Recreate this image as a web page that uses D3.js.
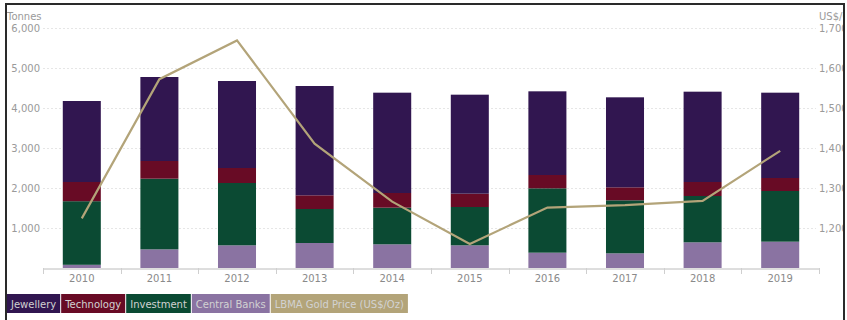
<!DOCTYPE html>
<html>
<head>
<meta charset="utf-8">
<script src="https://cdn.jsdelivr.net/npm/d3@7"></script>
<style>
  body { margin: 0; background: #fff; }
  #chart { position: relative; width: 847px; height: 320px; overflow: hidden; }
  svg text { font-family: "DejaVu Sans", sans-serif; }
</style>
</head>
<body>
<div id="chart"></div>
<script>
var years = ["2010", "2011", "2012", "2013", "2014", "2015", "2016", "2017", "2018", "2019"];
var centralBanks = [80, 467, 567, 625, 592, 567, 383, 367, 642, 658];
var investment = [1590, 1766, 1558, 850, 916, 958, 1609, 1325, 1158, 1267];
var technology = [480, 442, 375, 342, 367, 333, 333, 325, 350, 325];
var jewellery = [2025, 2100, 2175, 2733, 2508, 2475, 2092, 2250, 2258, 2133];
var goldPrice = [1224, 1572, 1669, 1411, 1266, 1160, 1251, 1257, 1268, 1393];
var leftTicks = [1000, 2000, 3000, 4000, 5000, 6000];
var rightTicks = [1200, 1300, 1400, 1500, 1600, 1700];

var seriesNames = ["Central Banks", "Investment", "Technology", "Jewellery"];
var seriesColors = {
    "Jewellery": "#311650",
    "Technology": "#680b25",
    "Investment": "#0b4a33",
    "Central Banks": "#8a73a2",
    "LBMA Gold Price (US$/Oz)": "#b3a479"
};
var legendOrder = ["Jewellery", "Technology", "Investment", "Central Banks", "LBMA Gold Price (US$/Oz)"];

var width = 847, height = 320,
    plotLeft = 43, plotRight = 819, plotTop = 28, plotBottom = 268;

var svg = d3.select("#chart").append("svg")
    .attr("width", width)
    .attr("height", height);

var x = d3.scaleBand().domain(years).range([plotLeft, plotRight]).paddingInner(0.51).paddingOuter(0.255);
var yLeft = d3.scaleLinear().domain([0, 6000]).range([plotBottom, plotTop]);
var yRight = d3.scaleLinear().domain([1100, 1700]).range([plotBottom, plotTop]);

// grid lines
svg.append("g")
    .selectAll("line")
    .data(leftTicks)
    .enter()
    .append("line")
    .attr("x1", plotLeft)
    .attr("x2", 816)
    .attr("y1", function(d) { return Math.round(yLeft(d)) + 0.5; })
    .attr("y2", function(d) { return Math.round(yLeft(d)) + 0.5; })
    .style("stroke", "#e6e6e6")
    .style("stroke-dasharray", "2,2");

// left axis labels
var leftAxis = d3.axisLeft(yLeft).tickValues(leftTicks).tickSize(0).tickPadding(3).tickFormat(d3.format(","));
var gl = svg.append("g").attr("transform", "translate(" + plotLeft + ",0)").call(leftAxis);
gl.select(".domain").remove();
gl.selectAll("text").style("fill", "#9a9a9a").style("font-size", "10px").style("font-family", "DejaVu Sans");

// right axis labels
var rightAxis = d3.axisRight(yRight).tickValues(rightTicks).tickSize(0).tickPadding(3).tickFormat(d3.format(","));
var gr = svg.append("g").attr("transform", "translate(816,0)").call(rightAxis);
gr.select(".domain").remove();
gr.selectAll("text").style("fill", "#9a9a9a").style("font-size", "10px").style("font-family", "DejaVu Sans");

svg.append("text").attr("x", 7).attr("y", 20).text("Tonnes")
    .style("fill", "#9a9a9a").style("font-size", "10px");
svg.append("text").attr("x", 819).attr("y", 20).text("US$/Oz")
    .style("fill", "#9a9a9a").style("font-size", "10px");

// stacked bars
var tableData = years.map(function(y, i) {
    return {
        year: y,
        "Central Banks": centralBanks[i],
        "Investment": investment[i],
        "Technology": technology[i],
        "Jewellery": jewellery[i]
    };
});
var stacked = d3.stack().keys(seriesNames)(tableData);

svg.append("g")
    .selectAll("g")
    .data(stacked)
    .enter()
    .append("g")
    .style("fill", function(d) { return seriesColors[d.key]; })
    .selectAll("rect")
    .data(function(d) { return d; })
    .enter()
    .append("rect")
    .attr("x", function(d) { return x(d.data.year); })
    .attr("width", x.bandwidth())
    .attr("y", function(d) { return yLeft(d[1]); })
    .attr("height", function(d) { return yLeft(d[0]) - yLeft(d[1]); });

// x axis
var xAxis = d3.axisBottom(x).tickSize(0).tickPadding(6);
var gx = svg.append("g").attr("transform", "translate(0," + (plotBottom + 0.5) + ")").call(xAxis);
gx.select(".domain").style("stroke", "#bcbcbc");
gx.selectAll("text").style("fill", "#8a8a8a").style("font-size", "10px").style("font-family", "DejaVu Sans");

var step = x.step();
var boundaries = d3.range(years.length + 1).map(function(i) { return plotLeft + i * step; });
svg.append("g")
    .selectAll("line")
    .data(boundaries)
    .enter()
    .append("line")
    .attr("x1", function(d) { return Math.round(d) + 0.5; })
    .attr("x2", function(d) { return Math.round(d) + 0.5; })
    .attr("y1", plotBottom)
    .attr("y2", plotBottom + 6)
    .style("stroke", "#cfcfcf");

// gold price line
var line = d3.line()
    .x(function(d, i) { return x(years[i]) + x.bandwidth() / 2; })
    .y(function(d) { return yRight(d); });
svg.append("path")
    .datum(goldPrice)
    .attr("d", line)
    .style("fill", "none")
    .style("stroke", seriesColors["LBMA Gold Price (US$/Oz)"])
    .style("stroke-width", 2.2);

// legend
var legend = svg.append("g").attr("transform", "translate(7,294)");
var lx = 0;
legendOrder.forEach(function(name) {
    var g = legend.append("g").attr("transform", "translate(" + lx + ",0)");
    var t = g.append("text")
        .attr("x", 4)
        .attr("y", 13.5)
        .text(name)
        .style("fill", "#d2d2d2")
        .style("font-size", "10px");
    var w = t.node().getComputedTextLength() + 8;
    g.insert("rect", "text")
        .attr("width", w)
        .attr("height", 19)
        .style("fill", seriesColors[name]);
    lx += w + 1;
});

// frame
svg.append("path")
    .attr("d", "M6,320 V4 H844 V320")
    .style("fill", "none")
    .style("stroke", "#2a2a2a")
    .style("stroke-width", 2);
svg.append("rect").attr("x", 845).attr("y", 0).attr("width", 2).attr("height", 320).style("fill", "#fff");
</script>
</body>
</html>
